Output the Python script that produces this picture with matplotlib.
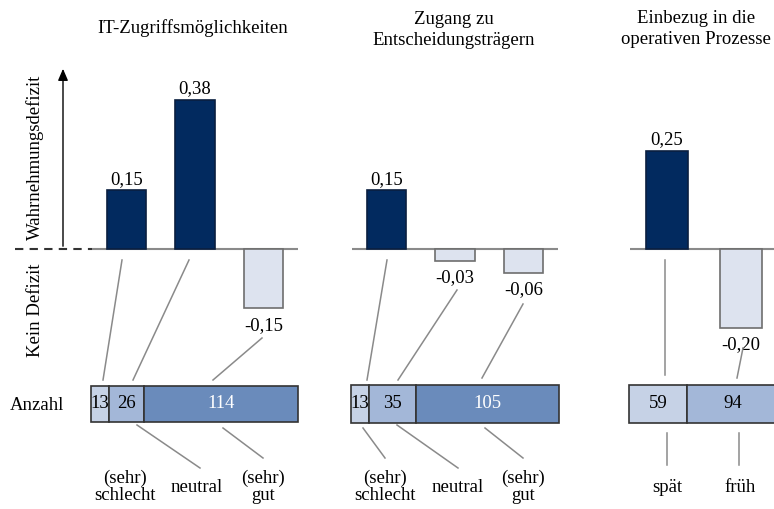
import matplotlib
matplotlib.use("Agg")
import matplotlib.pyplot as plt
import numpy as np

plt.rcParams['font.family'] = ['Liberation Serif', 'DejaVu Serif']

# ---- data ----
titles = ["IT-Zugriffsmöglichkeiten", "Zugang zu\nEntscheidungsträgern", "Einbezug in die\noperativen Prozesse"]
values_it = [0.15, 0.38, -0.15]
values_zugang = [0.15, -0.03, -0.06]
values_einbezug = [0.25, -0.20]
labels_it = ["0,15", "0,38", "-0,15"]
labels_zugang = ["0,15", "-0,03", "-0,06"]
labels_einbezug = ["0,25", "-0,20"]
counts_it = [13, 26, 114]
counts_zugang = [13, 35, 105]
counts_einbezug = [59, 94]
cats_3 = ["(sehr)\nschlecht", "neutral", "(sehr)\ngut"]
cats_2 = ["spät", "früh"]

W, H = 774, 509
fig = plt.figure(figsize=(W / 100, H / 100), dpi=100)

DARK = "#022a5f"
LIGHT = "#dde3ef"
GREY = "#8a8a8a"
SEG = ["#c6d2e6", "#a3b7d8", "#6a8bbb"]
FS = 13.5

def fx(x): return x / W
def fy(y): return 1 - y / H

# overlay axes in pixel coordinates for decorations
ov = fig.add_axes([0, 0, 1, 1], zorder=5)
ov.set_xlim(0, W); ov.set_ylim(H, 0); ov.axis("off")
ov.patch.set_alpha(0)

base_px = 249
scale = 393.0  # px per unit
ylo, yhi = -0.30, 0.45

def bar_axes(left_px, step_px):
    ax = fig.add_axes([fx(left_px), fy(base_px - ylo * scale), 3 * step_px / W, (yhi - ylo) * scale / H])
    ax.set_xlim(-0.5, 2.5); ax.set_ylim(ylo, yhi); ax.axis("off")
    return ax

panels = [
    (values_it, labels_it, 92, 68.67),
    (values_zugang, labels_zugang, 352, 68.67),
    (values_einbezug, labels_einbezug, 630, 74.0),
]
bar_axs = []
for vals, labs, L, s in panels:
    ax = bar_axes(L, s)
    ax.axhline(0, color=GREY, lw=1.5, zorder=1)
    x = np.arange(len(vals))
    cols = [DARK if v > 0 else LIGHT for v in vals]
    edges = ["#0a1f40" if v > 0 else "#6e6e6e" for v in vals]
    ax.bar(x, vals, width=0.57, color=cols, edgecolor=edges, linewidth=1.2, zorder=2)
    for xi, v, t in zip(x, vals, labs):
        if v > 0:
            ax.text(xi, v + 0.006, t, ha="center", va="bottom", fontsize=FS)
        else:
            ax.text(xi, v - 0.022, t, ha="center", va="top", fontsize=FS)
    bar_axs.append(ax)

# stacked count bars
stacks = [
    (counts_it, 91, 207, 386, 422, SEG),
    (counts_zugang, 351, 208, 385, 423, SEG),
    (counts_einbezug, 629, 150, 385, 423, SEG[:2]),
]
for counts, L, w, top, bot, cols in stacks:
    ax = fig.add_axes([fx(L), fy(bot), w / W, (bot - top) / H])
    ax.set_xlim(0, sum(counts)); ax.set_ylim(-0.5, 0.5); ax.axis("off")
    left = 0
    for i, c in enumerate(counts):
        ax.barh(0, c, left=left, height=1.0, color=cols[i], edgecolor="#333333", linewidth=1.2, clip_on=False)
        tc = "white" if (i == 2) else "black"
        ax.text(left + c / 2, 0, str(c), ha="center", va="center", fontsize=FS, color=tc)
        left += c

# left axis decorations
ov.plot([15, 92], [base_px, base_px], color="#333333", lw=1.5, ls=(0, (4, 3)))
ov.annotate("", xy=(63, 66), xytext=(63, base_px),
            arrowprops=dict(arrowstyle="-|>,head_length=0.7,head_width=0.3", color="black", lw=1.0))
ov.text(35, 157, "Wahrnehmungsdefizit", rotation=90, ha="center", va="center", fontsize=FS)
ov.text(35, 310, "Kein Defizit", rotation=90, ha="center", va="center", fontsize=FS)
ov.text(10, 405, "Anzahl", ha="left", va="center", fontsize=FS)

# titles
ov.text(193, 28, titles[0], ha="center", va="center", fontsize=FS)
ov.text(454, 30, titles[1], ha="center", va="center", fontsize=FS, linespacing=1.3)
ov.text(696, 29, titles[2], ha="center", va="center", fontsize=FS, linespacing=1.25)

# connectors (bars -> counts)
conn_top = [((122, 260), (103, 380)), ((189, 260), (133, 380)), ((262, 338), (213, 380)),
            ((387, 260), (367, 380)), ((457, 290), (398, 380)), ((523, 304), (482, 378)),
            ((665, 260), (665, 375)), ((743, 348), (737, 378))]
for (x0, y0), (x1, y1) in conn_top:
    ov.plot([x0, x1], [y0, y1], color=GREY, lw=1.1)

# connectors (counts -> category labels)
conn_bot = [((137, 425), (200, 468)), ((223, 428), (263, 458)),
            ((363, 428), (385, 458)), ((397, 425), (458, 468)), ((485, 428), (523, 458)),
            ((667, 433), (667, 465)), ((739, 433), (739, 465))]
for (x0, y0), (x1, y1) in conn_bot:
    ov.plot([x0, x1], [y0, y1], color=GREY, lw=1.1)

# category labels
for xc, lab in zip([125, 197, 263], cats_3):
    ov.text(xc, 487, lab, ha="center", va="center", fontsize=FS, linespacing=1.05)
for xc, lab in zip([385, 458, 523], cats_3):
    ov.text(xc, 487, lab, ha="center", va="center", fontsize=FS, linespacing=1.05)
for xc, lab in zip([667, 740], cats_2):
    ov.text(xc, 487, lab, ha="center", va="center", fontsize=FS)

fig.savefig("out.png", dpi=100, facecolor="white")
